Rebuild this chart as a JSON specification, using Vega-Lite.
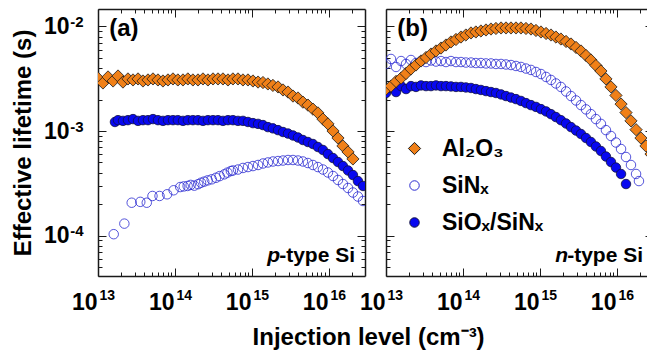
{
"$schema":"https://vega.github.io/schema/vega-lite/v6.json",
"background":"white",
"padding":{"left":11,"top":8,"right":0,"bottom":0},
"autosize":{"type":"pad"},
"title":{"text":"Injection level (cm⁻³)","orient":"bottom","anchor":"middle","font":"Liberation Sans","fontSize":24,"fontWeight":"bold","color":"#000","offset":8,"dx":36},
"config":{"font":"Liberation Sans","view":{"stroke":null},
 "axis":{"domainColor":"#1a1a1a","domainWidth":1.5,"tickColor":"#1a1a1a","tickWidth":1,"labelColor":"#000","labelFont":"Liberation Sans","labelFontWeight":"bold","titleFont":"Liberation Sans","titleFontWeight":"bold","titleColor":"#000","grid":false}},
"datasets":{
"a":[
{"x":1.6e13,"y":1.03e-4,"s":"SiNₓ"},{"x":2.2e13,"y":1.30e-4,"s":"SiNₓ"},{"x":2.74e13,"y":2.06e-4,"s":"SiNₓ"},{"x":3.54e13,"y":2.10e-4,"s":"SiNₓ"},{"x":4.3e13,"y":2.06e-4,"s":"SiNₓ"},{"x":5.1e13,"y":2.39e-4,"s":"SiNₓ"},{"x":6.3e13,"y":2.39e-4,"s":"SiNₓ"},{"x":7.9e13,"y":2.48e-4,"s":"SiNₓ"},{"x":9.6e13,"y":2.71e-4,"s":"SiNₓ"},{"x":1.17e14,"y":2.91e-4,"s":"SiNₓ"},{"x":1.3e14,"y":2.95e-4,"s":"SiNₓ"},{"x":1.46e14,"y":2.98e-4,"s":"SiNₓ"},{"x":1.6e14,"y":3.05e-4,"s":"SiNₓ"},{"x":1.78e14,"y":3.0e-4,"s":"SiNₓ"},{"x":2.0e14,"y":3.1e-4,"s":"SiNₓ"},{"x":2.18e14,"y":3.2e-4,"s":"SiNₓ"},{"x":2.4e14,"y":3.28e-4,"s":"SiNₓ"},{"x":2.66e14,"y":3.37e-4,"s":"SiNₓ"},{"x":3.0e14,"y":3.45e-4,"s":"SiNₓ"},{"x":3.41e14,"y":3.57e-4,"s":"SiNₓ"},{"x":3.8e14,"y":3.7e-4,"s":"SiNₓ"},{"x":4.37e14,"y":3.85e-4,"s":"SiNₓ"},{"x":4.8e14,"y":4.0e-4,"s":"SiNₓ"},{"x":5.33e14,"y":4.14e-4,"s":"SiNₓ"},{"x":5.66e14,"y":4.19e-4,"s":"SiNₓ"},{"x":6.58e14,"y":4.28e-4,"s":"SiNₓ"},{"x":7.64e14,"y":4.43e-4,"s":"SiNₓ"},{"x":8.87e14,"y":4.52e-4,"s":"SiNₓ"},{"x":1.03e15,"y":4.62e-4,"s":"SiNₓ"},{"x":1.20e15,"y":4.73e-4,"s":"SiNₓ"},{"x":1.39e15,"y":4.89e-4,"s":"SiNₓ"},{"x":1.61e15,"y":5.00e-4,"s":"SiNₓ"},{"x":1.87e15,"y":5.11e-4,"s":"SiNₓ"},{"x":2.18e15,"y":5.16e-4,"s":"SiNₓ"},{"x":2.53e15,"y":5.22e-4,"s":"SiNₓ"},{"x":2.94e15,"y":5.28e-4,"s":"SiNₓ"},{"x":3.41e15,"y":5.28e-4,"s":"SiNₓ"},{"x":3.96e15,"y":5.22e-4,"s":"SiNₓ"},{"x":4.59e15,"y":5.11e-4,"s":"SiNₓ"},{"x":5.33e15,"y":4.94e-4,"s":"SiNₓ"},{"x":6.19e15,"y":4.73e-4,"s":"SiNₓ"},{"x":7.19e15,"y":4.52e-4,"s":"SiNₓ"},{"x":8.36e15,"y":4.28e-4,"s":"SiNₓ"},{"x":9.70e15,"y":4.01e-4,"s":"SiNₓ"},{"x":1.13e16,"y":3.71e-4,"s":"SiNₓ"},{"x":1.31e16,"y":3.40e-4,"s":"SiNₓ"},{"x":1.52e16,"y":3.11e-4,"s":"SiNₓ"},{"x":1.77e16,"y":2.85e-4,"s":"SiNₓ"},{"x":2.05e16,"y":2.58e-4,"s":"SiNₓ"},{"x":2.38e16,"y":2.36e-4,"s":"SiNₓ"},{"x":2.77e16,"y":2.14e-4,"s":"SiNₓ"},
{"x":1.66e13,"y":1.22e-3,"s":"SiOₓ/SiNₓ"},{"x":1.82e13,"y":1.27e-3,"s":"SiOₓ/SiNₓ"},{"x":2.11e13,"y":1.25e-3,"s":"SiOₓ/SiNₓ"},{"x":2.45e13,"y":1.27e-3,"s":"SiOₓ/SiNₓ"},{"x":2.85e13,"y":1.30e-3,"s":"SiOₓ/SiNₓ"},{"x":3.31e13,"y":1.25e-3,"s":"SiOₓ/SiNₓ"},{"x":3.84e13,"y":1.27e-3,"s":"SiOₓ/SiNₓ"},{"x":4.46e13,"y":1.27e-3,"s":"SiOₓ/SiNₓ"},{"x":5.18e13,"y":1.30e-3,"s":"SiOₓ/SiNₓ"},{"x":6.01e13,"y":1.27e-3,"s":"SiOₓ/SiNₓ"},{"x":6.98e13,"y":1.25e-3,"s":"SiOₓ/SiNₓ"},{"x":8.11e13,"y":1.27e-3,"s":"SiOₓ/SiNₓ"},{"x":9.42e13,"y":1.27e-3,"s":"SiOₓ/SiNₓ"},{"x":1.09e14,"y":1.27e-3,"s":"SiOₓ/SiNₓ"},{"x":1.27e14,"y":1.25e-3,"s":"SiOₓ/SiNₓ"},{"x":1.47e14,"y":1.27e-3,"s":"SiOₓ/SiNₓ"},{"x":1.71e14,"y":1.27e-3,"s":"SiOₓ/SiNₓ"},{"x":1.99e14,"y":1.27e-3,"s":"SiOₓ/SiNₓ"},{"x":2.31e14,"y":1.25e-3,"s":"SiOₓ/SiNₓ"},{"x":2.68e14,"y":1.27e-3,"s":"SiOₓ/SiNₓ"},{"x":3.12e14,"y":1.27e-3,"s":"SiOₓ/SiNₓ"},{"x":3.62e14,"y":1.27e-3,"s":"SiOₓ/SiNₓ"},{"x":4.20e14,"y":1.25e-3,"s":"SiOₓ/SiNₓ"},{"x":4.88e14,"y":1.27e-3,"s":"SiOₓ/SiNₓ"},{"x":5.66e14,"y":1.27e-3,"s":"SiOₓ/SiNₓ"},{"x":6.58e14,"y":1.25e-3,"s":"SiOₓ/SiNₓ"},{"x":7.64e14,"y":1.25e-3,"s":"SiOₓ/SiNₓ"},{"x":8.87e14,"y":1.22e-3,"s":"SiOₓ/SiNₓ"},{"x":1.03e15,"y":1.19e-3,"s":"SiOₓ/SiNₓ"},{"x":1.20e15,"y":1.17e-3,"s":"SiOₓ/SiNₓ"},{"x":1.39e15,"y":1.14e-3,"s":"SiOₓ/SiNₓ"},{"x":1.61e15,"y":1.09e-3,"s":"SiOₓ/SiNₓ"},{"x":1.87e15,"y":1.06e-3,"s":"SiOₓ/SiNₓ"},{"x":2.18e15,"y":1.02e-3,"s":"SiOₓ/SiNₓ"},{"x":2.53e15,"y":9.78e-4,"s":"SiOₓ/SiNₓ"},{"x":2.94e15,"y":9.46e-4,"s":"SiOₓ/SiNₓ"},{"x":3.41e15,"y":9.06e-4,"s":"SiOₓ/SiNₓ"},{"x":3.96e15,"y":8.67e-4,"s":"SiOₓ/SiNₓ"},{"x":4.59e15,"y":8.20e-4,"s":"SiOₓ/SiNₓ"},{"x":5.33e15,"y":7.85e-4,"s":"SiOₓ/SiNₓ"},{"x":6.19e15,"y":7.51e-4,"s":"SiOₓ/SiNₓ"},{"x":7.19e15,"y":7.03e-4,"s":"SiOₓ/SiNₓ"},{"x":8.36e15,"y":6.58e-4,"s":"SiOₓ/SiNₓ"},{"x":9.70e15,"y":6.02e-4,"s":"SiOₓ/SiNₓ"},{"x":1.13e16,"y":5.51e-4,"s":"SiOₓ/SiNₓ"},{"x":1.31e16,"y":5.05e-4,"s":"SiOₓ/SiNₓ"},{"x":1.52e16,"y":4.62e-4,"s":"SiOₓ/SiNₓ"},{"x":1.77e16,"y":4.19e-4,"s":"SiOₓ/SiNₓ"},{"x":2.05e16,"y":3.79e-4,"s":"SiOₓ/SiNₓ"},{"x":2.38e16,"y":3.32e-4,"s":"SiOₓ/SiNₓ"},{"x":2.77e16,"y":2.98e-4,"s":"SiOₓ/SiNₓ"},
{"x":1.00e13,"y":3.2e-3,"s":"Al₂O₃"},{"x":1.16e13,"y":2.88e-3,"s":"Al₂O₃"},{"x":1.35e13,"y":3.29e-3,"s":"Al₂O₃"},{"x":1.57e13,"y":3.01e-3,"s":"Al₂O₃"},{"x":1.82e13,"y":3.36e-3,"s":"Al₂O₃"},{"x":2.11e13,"y":2.94e-3,"s":"Al₂O₃"},{"x":2.45e13,"y":3.15e-3,"s":"Al₂O₃"},{"x":2.85e13,"y":3.08e-3,"s":"Al₂O₃"},{"x":3.31e13,"y":3.15e-3,"s":"Al₂O₃"},{"x":3.84e13,"y":3.01e-3,"s":"Al₂O₃"},{"x":4.46e13,"y":3.08e-3,"s":"Al₂O₃"},{"x":5.18e13,"y":3.15e-3,"s":"Al₂O₃"},{"x":6.01e13,"y":3.08e-3,"s":"Al₂O₃"},{"x":6.98e13,"y":3.01e-3,"s":"Al₂O₃"},{"x":8.11e13,"y":3.08e-3,"s":"Al₂O₃"},{"x":9.42e13,"y":3.15e-3,"s":"Al₂O₃"},{"x":1.09e14,"y":3.08e-3,"s":"Al₂O₃"},{"x":1.27e14,"y":3.08e-3,"s":"Al₂O₃"},{"x":1.47e14,"y":3.15e-3,"s":"Al₂O₃"},{"x":1.71e14,"y":3.08e-3,"s":"Al₂O₃"},{"x":1.99e14,"y":3.08e-3,"s":"Al₂O₃"},{"x":2.31e14,"y":3.15e-3,"s":"Al₂O₃"},{"x":2.68e14,"y":3.08e-3,"s":"Al₂O₃"},{"x":3.12e14,"y":3.15e-3,"s":"Al₂O₃"},{"x":3.62e14,"y":3.15e-3,"s":"Al₂O₃"},{"x":4.20e14,"y":3.15e-3,"s":"Al₂O₃"},{"x":4.88e14,"y":3.08e-3,"s":"Al₂O₃"},{"x":5.66e14,"y":3.15e-3,"s":"Al₂O₃"},{"x":6.58e14,"y":3.15e-3,"s":"Al₂O₃"},{"x":7.64e14,"y":3.08e-3,"s":"Al₂O₃"},{"x":8.87e14,"y":3.08e-3,"s":"Al₂O₃"},{"x":1.03e15,"y":3.01e-3,"s":"Al₂O₃"},{"x":1.20e15,"y":2.94e-3,"s":"Al₂O₃"},{"x":1.39e15,"y":2.91e-3,"s":"Al₂O₃"},{"x":1.61e15,"y":2.82e-3,"s":"Al₂O₃"},{"x":1.87e15,"y":2.73e-3,"s":"Al₂O₃"},{"x":2.18e15,"y":2.64e-3,"s":"Al₂O₃"},{"x":2.53e15,"y":2.47e-3,"s":"Al₂O₃"},{"x":2.94e15,"y":2.36e-3,"s":"Al₂O₃"},{"x":3.41e15,"y":2.16e-3,"s":"Al₂O₃"},{"x":3.96e15,"y":2.07e-3,"s":"Al₂O₃"},{"x":4.59e15,"y":1.89e-3,"s":"Al₂O₃"},{"x":5.33e15,"y":1.77e-3,"s":"Al₂O₃"},{"x":6.19e15,"y":1.62e-3,"s":"Al₂O₃"},{"x":7.19e15,"y":1.49e-3,"s":"Al₂O₃"},{"x":8.36e15,"y":1.30e-3,"s":"Al₂O₃"},{"x":9.70e15,"y":1.17e-3,"s":"Al₂O₃"},{"x":1.13e16,"y":1.00e-3,"s":"Al₂O₃"},{"x":1.31e16,"y":8.57e-4,"s":"Al₂O₃"},{"x":1.52e16,"y":7.19e-4,"s":"Al₂O₃"},{"x":1.77e16,"y":6.30e-4,"s":"Al₂O₃"},{"x":2.05e16,"y":5.40e-4,"s":"Al₂O₃"}
],
"b":[
{"x":1.00e13,"y":4.38e-3,"s":"SiNₓ"},{"x":1.16e13,"y":4.89e-3,"s":"SiNₓ"},{"x":1.35e13,"y":4.10e-3,"s":"SiNₓ"},{"x":1.57e13,"y":4.67e-3,"s":"SiNₓ"},{"x":1.82e13,"y":4.38e-3,"s":"SiNₓ"},{"x":2.11e13,"y":4.78e-3,"s":"SiNₓ"},{"x":2.45e13,"y":4.47e-3,"s":"SiNₓ"},{"x":2.85e13,"y":4.67e-3,"s":"SiNₓ"},{"x":3.31e13,"y":4.57e-3,"s":"SiNₓ"},{"x":3.84e13,"y":4.73e-3,"s":"SiNₓ"},{"x":4.46e13,"y":4.62e-3,"s":"SiNₓ"},{"x":5.18e13,"y":4.67e-3,"s":"SiNₓ"},{"x":6.01e13,"y":4.57e-3,"s":"SiNₓ"},{"x":6.98e13,"y":4.67e-3,"s":"SiNₓ"},{"x":8.11e13,"y":4.57e-3,"s":"SiNₓ"},{"x":9.42e13,"y":4.57e-3,"s":"SiNₓ"},{"x":1.09e14,"y":4.52e-3,"s":"SiNₓ"},{"x":1.27e14,"y":4.52e-3,"s":"SiNₓ"},{"x":1.47e14,"y":4.47e-3,"s":"SiNₓ"},{"x":1.71e14,"y":4.47e-3,"s":"SiNₓ"},{"x":1.99e14,"y":4.43e-3,"s":"SiNₓ"},{"x":2.31e14,"y":4.43e-3,"s":"SiNₓ"},{"x":2.68e14,"y":4.38e-3,"s":"SiNₓ"},{"x":3.12e14,"y":4.38e-3,"s":"SiNₓ"},{"x":3.62e14,"y":4.33e-3,"s":"SiNₓ"},{"x":4.20e14,"y":4.28e-3,"s":"SiNₓ"},{"x":4.88e14,"y":4.19e-3,"s":"SiNₓ"},{"x":5.66e14,"y":4.10e-3,"s":"SiNₓ"},{"x":6.58e14,"y":3.96e-3,"s":"SiNₓ"},{"x":7.64e14,"y":3.84e-3,"s":"SiNₓ"},{"x":8.87e14,"y":3.67e-3,"s":"SiNₓ"},{"x":1.03e15,"y":3.51e-3,"s":"SiNₓ"},{"x":1.20e15,"y":3.29e-3,"s":"SiNₓ"},{"x":1.39e15,"y":3.08e-3,"s":"SiNₓ"},{"x":1.61e15,"y":2.85e-3,"s":"SiNₓ"},{"x":1.87e15,"y":2.64e-3,"s":"SiNₓ"},{"x":2.18e15,"y":2.39e-3,"s":"SiNₓ"},{"x":2.53e15,"y":2.16e-3,"s":"SiNₓ"},{"x":2.94e15,"y":1.96e-3,"s":"SiNₓ"},{"x":3.41e15,"y":1.77e-3,"s":"SiNₓ"},{"x":3.96e15,"y":1.61e-3,"s":"SiNₓ"},{"x":4.59e15,"y":1.45e-3,"s":"SiNₓ"},{"x":5.33e15,"y":1.30e-3,"s":"SiNₓ"},{"x":6.19e15,"y":1.17e-3,"s":"SiNₓ"},{"x":7.19e15,"y":1.02e-3,"s":"SiNₓ"},{"x":8.36e15,"y":8.96e-4,"s":"SiNₓ"},{"x":9.70e15,"y":7.76e-4,"s":"SiNₓ"},{"x":1.13e16,"y":6.73e-4,"s":"SiNₓ"},{"x":1.31e16,"y":5.64e-4,"s":"SiNₓ"},{"x":1.52e16,"y":4.73e-4,"s":"SiNₓ"},{"x":1.77e16,"y":3.88e-4,"s":"SiNₓ"},{"x":1.93e16,"y":3.32e-4,"s":"SiNₓ"},
{"x":1.00e13,"y":2.31e-3,"s":"SiOₓ/SiNₓ"},{"x":1.16e13,"y":2.58e-3,"s":"SiOₓ/SiNₓ"},{"x":1.35e13,"y":2.36e-3,"s":"SiOₓ/SiNₓ"},{"x":1.57e13,"y":2.69e-3,"s":"SiOₓ/SiNₓ"},{"x":1.82e13,"y":2.52e-3,"s":"SiOₓ/SiNₓ"},{"x":2.11e13,"y":2.69e-3,"s":"SiOₓ/SiNₓ"},{"x":2.45e13,"y":2.64e-3,"s":"SiOₓ/SiNₓ"},{"x":2.85e13,"y":2.73e-3,"s":"SiOₓ/SiNₓ"},{"x":3.31e13,"y":2.69e-3,"s":"SiOₓ/SiNₓ"},{"x":3.84e13,"y":2.69e-3,"s":"SiOₓ/SiNₓ"},{"x":4.46e13,"y":2.73e-3,"s":"SiOₓ/SiNₓ"},{"x":5.18e13,"y":2.69e-3,"s":"SiOₓ/SiNₓ"},{"x":6.01e13,"y":2.69e-3,"s":"SiOₓ/SiNₓ"},{"x":6.98e13,"y":2.67e-3,"s":"SiOₓ/SiNₓ"},{"x":8.11e13,"y":2.64e-3,"s":"SiOₓ/SiNₓ"},{"x":9.42e13,"y":2.64e-3,"s":"SiOₓ/SiNₓ"},{"x":1.09e14,"y":2.61e-3,"s":"SiOₓ/SiNₓ"},{"x":1.27e14,"y":2.58e-3,"s":"SiOₓ/SiNₓ"},{"x":1.47e14,"y":2.52e-3,"s":"SiOₓ/SiNₓ"},{"x":1.71e14,"y":2.47e-3,"s":"SiOₓ/SiNₓ"},{"x":1.99e14,"y":2.41e-3,"s":"SiOₓ/SiNₓ"},{"x":2.31e14,"y":2.36e-3,"s":"SiOₓ/SiNₓ"},{"x":2.68e14,"y":2.31e-3,"s":"SiOₓ/SiNₓ"},{"x":3.12e14,"y":2.24e-3,"s":"SiOₓ/SiNₓ"},{"x":3.62e14,"y":2.16e-3,"s":"SiOₓ/SiNₓ"},{"x":4.20e14,"y":2.09e-3,"s":"SiOₓ/SiNₓ"},{"x":4.88e14,"y":2.02e-3,"s":"SiOₓ/SiNₓ"},{"x":5.66e14,"y":1.94e-3,"s":"SiOₓ/SiNₓ"},{"x":6.58e14,"y":1.85e-3,"s":"SiOₓ/SiNₓ"},{"x":7.64e14,"y":1.77e-3,"s":"SiOₓ/SiNₓ"},{"x":8.87e14,"y":1.70e-3,"s":"SiOₓ/SiNₓ"},{"x":1.03e15,"y":1.62e-3,"s":"SiOₓ/SiNₓ"},{"x":1.20e15,"y":1.54e-3,"s":"SiOₓ/SiNₓ"},{"x":1.39e15,"y":1.45e-3,"s":"SiOₓ/SiNₓ"},{"x":1.61e15,"y":1.36e-3,"s":"SiOₓ/SiNₓ"},{"x":1.87e15,"y":1.27e-3,"s":"SiOₓ/SiNₓ"},{"x":2.18e15,"y":1.18e-3,"s":"SiOₓ/SiNₓ"},{"x":2.53e15,"y":1.09e-3,"s":"SiOₓ/SiNₓ"},{"x":2.94e15,"y":1.01e-3,"s":"SiOₓ/SiNₓ"},{"x":3.41e15,"y":9.36e-4,"s":"SiOₓ/SiNₓ"},{"x":3.96e15,"y":8.57e-4,"s":"SiOₓ/SiNₓ"},{"x":4.59e15,"y":7.85e-4,"s":"SiOₓ/SiNₓ"},{"x":5.33e15,"y":7.11e-4,"s":"SiOₓ/SiNₓ"},{"x":6.19e15,"y":6.44e-4,"s":"SiOₓ/SiNₓ"},{"x":7.19e15,"y":5.70e-4,"s":"SiOₓ/SiNₓ"},{"x":8.36e15,"y":5.05e-4,"s":"SiOₓ/SiNₓ"},{"x":9.70e15,"y":4.47e-4,"s":"SiOₓ/SiNₓ"},{"x":1.13e16,"y":3.88e-4,"s":"SiOₓ/SiNₓ"},{"x":1.31e16,"y":3.11e-4,"s":"SiOₓ/SiNₓ"},
{"x":1.00e13,"y":2.52e-3,"s":"Al₂O₃"},{"x":1.16e13,"y":2.69e-3,"s":"Al₂O₃"},{"x":1.35e13,"y":2.98e-3,"s":"Al₂O₃"},{"x":1.57e13,"y":3.21e-3,"s":"Al₂O₃"},{"x":1.82e13,"y":3.55e-3,"s":"Al₂O₃"},{"x":2.11e13,"y":3.92e-3,"s":"Al₂O₃"},{"x":2.45e13,"y":4.28e-3,"s":"Al₂O₃"},{"x":2.85e13,"y":4.68e-3,"s":"Al₂O₃"},{"x":3.31e13,"y":5.05e-3,"s":"Al₂O₃"},{"x":3.84e13,"y":5.45e-3,"s":"Al₂O₃"},{"x":4.46e13,"y":5.83e-3,"s":"Al₂O₃"},{"x":5.18e13,"y":6.22e-3,"s":"Al₂O₃"},{"x":6.01e13,"y":6.65e-3,"s":"Al₂O₃"},{"x":6.98e13,"y":7.11e-3,"s":"Al₂O₃"},{"x":8.11e13,"y":7.51e-3,"s":"Al₂O₃"},{"x":9.42e13,"y":7.93e-3,"s":"Al₂O₃"},{"x":1.09e14,"y":8.29e-3,"s":"Al₂O₃"},{"x":1.27e14,"y":8.67e-3,"s":"Al₂O₃"},{"x":1.47e14,"y":8.86e-3,"s":"Al₂O₃"},{"x":1.71e14,"y":9.06e-3,"s":"Al₂O₃"},{"x":1.99e14,"y":9.26e-3,"s":"Al₂O₃"},{"x":2.31e14,"y":9.46e-3,"s":"Al₂O₃"},{"x":2.68e14,"y":9.57e-3,"s":"Al₂O₃"},{"x":3.12e14,"y":9.68e-3,"s":"Al₂O₃"},{"x":3.62e14,"y":9.68e-3,"s":"Al₂O₃"},{"x":4.20e14,"y":9.68e-3,"s":"Al₂O₃"},{"x":4.88e14,"y":9.68e-3,"s":"Al₂O₃"},{"x":5.66e14,"y":9.68e-3,"s":"Al₂O₃"},{"x":6.58e14,"y":9.57e-3,"s":"Al₂O₃"},{"x":7.64e14,"y":9.46e-3,"s":"Al₂O₃"},{"x":8.87e14,"y":9.16e-3,"s":"Al₂O₃"},{"x":1.03e15,"y":8.86e-3,"s":"Al₂O₃"},{"x":1.20e15,"y":8.57e-3,"s":"Al₂O₃"},{"x":1.39e15,"y":8.29e-3,"s":"Al₂O₃"},{"x":1.61e15,"y":7.93e-3,"s":"Al₂O₃"},{"x":1.87e15,"y":7.59e-3,"s":"Al₂O₃"},{"x":2.18e15,"y":7.19e-3,"s":"Al₂O₃"},{"x":2.53e15,"y":6.80e-3,"s":"Al₂O₃"},{"x":2.94e15,"y":6.30e-3,"s":"Al₂O₃"},{"x":3.41e15,"y":5.83e-3,"s":"Al₂O₃"},{"x":3.96e15,"y":5.28e-3,"s":"Al₂O₃"},{"x":4.59e15,"y":4.78e-3,"s":"Al₂O₃"},{"x":5.33e15,"y":4.23e-3,"s":"Al₂O₃"},{"x":6.19e15,"y":3.75e-3,"s":"Al₂O₃"},{"x":7.19e15,"y":3.15e-3,"s":"Al₂O₃"},{"x":8.36e15,"y":2.64e-3,"s":"Al₂O₃"},{"x":9.70e15,"y":2.19e-3,"s":"Al₂O₃"},{"x":1.13e16,"y":1.81e-3,"s":"Al₂O₃"},{"x":1.31e16,"y":1.50e-3,"s":"Al₂O₃"},{"x":1.52e16,"y":1.25e-3,"s":"Al₂O₃"},{"x":1.77e16,"y":1.03e-3,"s":"Al₂O₃"},{"x":2.05e16,"y":8.57e-4,"s":"Al₂O₃"},{"x":2.38e16,"y":7.19e-4,"s":"Al₂O₃"},{"x":2.77e16,"y":6.02e-4,"s":"Al₂O₃"}
]},
"spacing":21,
"bounds":"flush",
"resolve":{"scale":{"x":"independent","y":"independent"}},
"hconcat":[
{"width":267,"height":267,"data":{"name":"a"},
 "resolve":{"axis":{"x":"independent","y":"independent"}},
 "layer":[
  {"mark":{"type":"point","filled":true,"opacity":1,"strokeWidth":0.8,"clip":true},
   "encoding":{
    "x":{"field":"x","type":"quantitative","scale":{"type":"log","domain":[1e13,2.94e16],"nice":false},
      "axis":{"orient":"bottom","values":[1e13,2e13,3e13,4e13,5e13,6e13,7e13,8e13,9e13,1e14,2e14,3e14,4e14,5e14,6e14,7e14,8e14,9e14,1e15,2e15,3e15,4e15,5e15,6e15,7e15,8e15,9e15,1e16,2e16],"labelExpr":"abs(log(datum.value)/LN10-round(log(datum.value)/LN10))<0.01?'10':''","labelAlign":"right","labelOffset":-1,"labelBaseline":"top","labelFontSize":23,"labelPadding":23,"labelFlush":false,"labelOverlap":false,"labelBound":false,"tickSize":{"condition":{"test":"abs(log(datum.value)/LN10-round(log(datum.value)/LN10))<0.01","value":-8},"value":-4},"title":null}},
    "y":{"field":"y","type":"quantitative","scale":{"type":"log","domain":[4.1e-5,1.47e-2],"nice":false},
      "axis":{"orient":"left","values":[5e-5,6e-5,7e-5,8e-5,9e-5,1e-4,2e-4,3e-4,4e-4,5e-4,6e-4,7e-4,8e-4,9e-4,1e-3,2e-3,3e-3,4e-3,5e-3,6e-3,7e-3,8e-3,9e-3,1e-2],"labelExpr":"abs(log(datum.value)/LN10-round(log(datum.value)/LN10))<0.01?'10':''","labelAlign":"right","labelBaseline":"middle","labelFontSize":23,"labelPadding":37,"labelFlush":false,"labelOverlap":false,"labelBound":false,"tickSize":{"condition":{"test":"abs(log(datum.value)/LN10-round(log(datum.value)/LN10))<0.01","value":-8},"value":-4},"title":"Effective lifetime (s)","titleFontSize":24,"titlePadding":8}},
    "shape":{"field":"s","type":"nominal","scale":{"domain":["Al₂O₃","SiNₓ","SiOₓ/SiNₓ"],"range":["diamond","circle","circle"]},"legend":{"title":null,"orient":"none","legendX":305,"legendY":128,"labelFontSize":23,"labelFont":"Liberation Sans","labelFontWeight":"bold","labelColor":"#000","rowPadding":13,"padding":0,"labelOffset":16,"symbolStrokeWidth":1,"labelLimit":0}},
    "fill":{"field":"s","type":"nominal","scale":{"domain":["Al₂O₃","SiNₓ","SiOₓ/SiNₓ"],"range":["#f08018","transparent","#0808f0"]},"legend":{"title":null,"orient":"none","legendX":305,"legendY":128,"labelFontSize":23,"labelFont":"Liberation Sans","labelFontWeight":"bold","labelColor":"#000","rowPadding":13,"padding":0,"labelOffset":16,"symbolStrokeWidth":1,"labelLimit":0}},
    "stroke":{"field":"s","type":"nominal","scale":{"domain":["Al₂O₃","SiNₓ","SiOₓ/SiNₓ"],"range":["#1a1a1a","#2a2ad0","#101040"]},"legend":{"title":null,"orient":"none","legendX":305,"legendY":128,"labelFontSize":23,"labelFont":"Liberation Sans","labelFontWeight":"bold","labelColor":"#000","rowPadding":13,"padding":0,"labelOffset":16,"symbolStrokeWidth":1,"labelLimit":0}},
    "size":{"field":"s","type":"nominal","scale":{"type":"ordinal","domain":["Al₂O₃","SiNₓ","SiOₓ/SiNₓ"],"range":[150,90,90]},"legend":{"title":null,"orient":"none","legendX":305,"legendY":128,"labelFontSize":23,"labelFont":"Liberation Sans","labelFontWeight":"bold","labelColor":"#000","rowPadding":13,"padding":0,"labelOffset":16,"symbolStrokeWidth":1,"labelLimit":0}}
   }},
  {"mark":{"type":"point","opacity":0},
   "encoding":{
    "x":{"field":"x","type":"quantitative","scale":{"type":"log","domain":[1e13,2.94e16],"nice":false},
      "axis":{"orient":"bottom","values":[1e13,1e14,1e15,1e16],"labelExpr":"''+round(log(datum.value)/LN10)","labelAlign":"left","labelOffset":1,"labelBaseline":"top","labelFontSize":14,"labelPadding":12,"ticks":false,"domain":false,"labelFlush":false,"labelOverlap":false,"labelBound":false,"title":null}},
    "y":{"field":"y","type":"quantitative","scale":{"type":"log","domain":[4.1e-5,1.47e-2],"nice":false},
      "axis":{"orient":"left","values":[1e-4,1e-3,1e-2],"labelExpr":"''+round(log(datum.value)/LN10)","labelAlign":"right","labelBaseline":"middle","labelFontSize":15,"labelPadding":15,"labelOffset":-5,"ticks":false,"domain":false,"labelFlush":false,"labelOverlap":false,"labelBound":false,"title":null}}
   }},
  {"mark":{"type":"point","opacity":0},
   "encoding":{
    "x":{"field":"x","type":"quantitative","scale":{"type":"log","domain":[1e13,2.94e16],"nice":false},
      "axis":{"orient":"top","values":[1e13,2e13,3e13,4e13,5e13,6e13,7e13,8e13,9e13,1e14,2e14,3e14,4e14,5e14,6e14,7e14,8e14,9e14,1e15,2e15,3e15,4e15,5e15,6e15,7e15,8e15,9e15,1e16,2e16],"labels":false,"tickSize":{"condition":{"test":"abs(log(datum.value)/LN10-round(log(datum.value)/LN10))<0.01","value":-8},"value":-4},"title":null}},
    "y":{"field":"y","type":"quantitative","scale":{"type":"log","domain":[4.1e-5,1.47e-2],"nice":false},
      "axis":{"orient":"right","values":[5e-5,6e-5,7e-5,8e-5,9e-5,1e-4,2e-4,3e-4,4e-4,5e-4,6e-4,7e-4,8e-4,9e-4,1e-3,2e-3,3e-3,4e-3,5e-3,6e-3,7e-3,8e-3,9e-3,1e-2],"labels":false,"tickSize":{"condition":{"test":"abs(log(datum.value)/LN10-round(log(datum.value)/LN10))<0.01","value":-8},"value":-4},"title":null}}
   }},
  {"data":{"values":[{}]},
   "mark":{"type":"text","text":"(a)","font":"Liberation Sans","fontWeight":"bold","fontSize":24,"align":"left","baseline":"middle","color":"#000"},
   "encoding":{"x":{"datum":1.4e13,"type":"quantitative","axis":null},"y":{"datum":9.46e-3,"type":"quantitative","axis":null}}},
  {"data":{"values":[{}]},
   "mark":{"type":"text","text":"-type Si","font":"Liberation Sans","fontWeight":"bold","fontSize":21,"align":"right","baseline":"alphabetic","color":"#000"},
   "encoding":{"x":{"datum":2.18e16,"type":"quantitative","axis":null},"y":{"datum":5.58e-5,"type":"quantitative","axis":null}}},
  {"data":{"values":[{}]},
   "mark":{"type":"text","text":"p","font":"Liberation Sans","fontWeight":"bold","fontStyle":"italic","fontSize":21,"align":"right","baseline":"alphabetic","dx":-75,"color":"#000"},
   "encoding":{"x":{"datum":2.18e16,"type":"quantitative","axis":null},"y":{"datum":5.58e-5,"type":"quantitative","axis":null}}}
 ]},
{"width":262,"height":267,"data":{"name":"b"},
 "resolve":{"axis":{"x":"independent","y":"independent"}},
 "layer":[
  {"mark":{"type":"point","filled":true,"opacity":1,"strokeWidth":0.8,"clip":true},
   "encoding":{
    "x":{"field":"x","type":"quantitative","scale":{"type":"log","domain":[1e13,2.53e16],"nice":false},
      "axis":{"orient":"bottom","values":[1e13,2e13,3e13,4e13,5e13,6e13,7e13,8e13,9e13,1e14,2e14,3e14,4e14,5e14,6e14,7e14,8e14,9e14,1e15,2e15,3e15,4e15,5e15,6e15,7e15,8e15,9e15,1e16,2e16],"labelExpr":"abs(log(datum.value)/LN10-round(log(datum.value)/LN10))<0.01?'10':''","labelAlign":"right","labelOffset":-1,"labelBaseline":"top","labelFontSize":23,"labelPadding":23,"labelFlush":false,"labelOverlap":false,"labelBound":false,"tickSize":{"condition":{"test":"abs(log(datum.value)/LN10-round(log(datum.value)/LN10))<0.01","value":-8},"value":-4},"title":null}},
    "y":{"field":"y","type":"quantitative","scale":{"type":"log","domain":[4.1e-5,1.47e-2],"nice":false},
      "axis":{"orient":"left","values":[5e-5,6e-5,7e-5,8e-5,9e-5,1e-4,2e-4,3e-4,4e-4,5e-4,6e-4,7e-4,8e-4,9e-4,1e-3,2e-3,3e-3,4e-3,5e-3,6e-3,7e-3,8e-3,9e-3,1e-2],"labels":false,"tickSize":{"condition":{"test":"abs(log(datum.value)/LN10-round(log(datum.value)/LN10))<0.01","value":-8},"value":-4},"title":null}},
    "shape":{"field":"s","type":"nominal","scale":{"domain":["Al₂O₃","SiNₓ","SiOₓ/SiNₓ"],"range":["diamond","circle","circle"]},"legend":{"title":null,"orient":"none","legendX":305,"legendY":128,"labelFontSize":23,"labelFont":"Liberation Sans","labelFontWeight":"bold","labelColor":"#000","rowPadding":13,"padding":0,"labelOffset":16,"symbolStrokeWidth":1,"labelLimit":0}},
    "fill":{"field":"s","type":"nominal","scale":{"domain":["Al₂O₃","SiNₓ","SiOₓ/SiNₓ"],"range":["#f08018","transparent","#0808f0"]},"legend":{"title":null,"orient":"none","legendX":305,"legendY":128,"labelFontSize":23,"labelFont":"Liberation Sans","labelFontWeight":"bold","labelColor":"#000","rowPadding":13,"padding":0,"labelOffset":16,"symbolStrokeWidth":1,"labelLimit":0}},
    "stroke":{"field":"s","type":"nominal","scale":{"domain":["Al₂O₃","SiNₓ","SiOₓ/SiNₓ"],"range":["#1a1a1a","#2a2ad0","#101040"]},"legend":{"title":null,"orient":"none","legendX":305,"legendY":128,"labelFontSize":23,"labelFont":"Liberation Sans","labelFontWeight":"bold","labelColor":"#000","rowPadding":13,"padding":0,"labelOffset":16,"symbolStrokeWidth":1,"labelLimit":0}},
    "size":{"field":"s","type":"nominal","scale":{"type":"ordinal","domain":["Al₂O₃","SiNₓ","SiOₓ/SiNₓ"],"range":[150,90,90]},"legend":{"title":null,"orient":"none","legendX":305,"legendY":128,"labelFontSize":23,"labelFont":"Liberation Sans","labelFontWeight":"bold","labelColor":"#000","rowPadding":13,"padding":0,"labelOffset":16,"symbolStrokeWidth":1,"labelLimit":0}}
   }},
  {"mark":{"type":"point","opacity":0},
   "encoding":{
    "x":{"field":"x","type":"quantitative","scale":{"type":"log","domain":[1e13,2.53e16],"nice":false},
      "axis":{"orient":"bottom","values":[1e13,1e14,1e15,1e16],"labelExpr":"''+round(log(datum.value)/LN10)","labelAlign":"left","labelOffset":1,"labelBaseline":"top","labelFontSize":14,"labelPadding":12,"ticks":false,"domain":false,"labelFlush":false,"labelOverlap":false,"labelBound":false,"title":null}},
    "y":{"field":"y","type":"quantitative","scale":{"type":"log","domain":[4.1e-5,1.47e-2],"nice":false},"axis":null}
   }},
  {"mark":{"type":"point","opacity":0},
   "encoding":{
    "x":{"field":"x","type":"quantitative","scale":{"type":"log","domain":[1e13,2.53e16],"nice":false},
      "axis":{"orient":"top","values":[1e13,2e13,3e13,4e13,5e13,6e13,7e13,8e13,9e13,1e14,2e14,3e14,4e14,5e14,6e14,7e14,8e14,9e14,1e15,2e15,3e15,4e15,5e15,6e15,7e15,8e15,9e15,1e16,2e16],"labels":false,"tickSize":{"condition":{"test":"abs(log(datum.value)/LN10-round(log(datum.value)/LN10))<0.01","value":-8},"value":-4},"title":null}},
    "y":{"field":"y","type":"quantitative","scale":{"type":"log","domain":[4.1e-5,1.47e-2],"nice":false},
      "axis":{"orient":"right","offset":5,"domain":false,"values":[5e-5,6e-5,7e-5,8e-5,9e-5,1e-4,2e-4,3e-4,4e-4,5e-4,6e-4,7e-4,8e-4,9e-4,1e-3,2e-3,3e-3,4e-3,5e-3,6e-3,7e-3,8e-3,9e-3,1e-2],"labels":false,"tickSize":{"condition":{"test":"abs(log(datum.value)/LN10-round(log(datum.value)/LN10))<0.01","value":-8},"value":-4},"title":null}}
   }},
  {"data":{"values":[{}]},
   "mark":{"type":"text","text":"(b)","font":"Liberation Sans","fontWeight":"bold","fontSize":24,"align":"left","baseline":"middle","color":"#000"},
   "encoding":{"x":{"datum":1.4e13,"type":"quantitative","axis":null},"y":{"datum":9.46e-3,"type":"quantitative","axis":null}}},
  {"data":{"values":[{}]},
   "mark":{"type":"text","text":"-type Si","font":"Liberation Sans","fontWeight":"bold","fontSize":21,"align":"right","baseline":"alphabetic","color":"#000"},
   "encoding":{"x":{"datum":2.18e16,"type":"quantitative","axis":null},"y":{"datum":5.58e-5,"type":"quantitative","axis":null}}},
  {"data":{"values":[{}]},
   "mark":{"type":"text","text":"n","font":"Liberation Sans","fontWeight":"bold","fontStyle":"italic","fontSize":21,"align":"right","baseline":"alphabetic","dx":-75,"color":"#000"},
   "encoding":{"x":{"datum":2.18e16,"type":"quantitative","axis":null},"y":{"datum":5.58e-5,"type":"quantitative","axis":null}}}
 ]}
]
}
